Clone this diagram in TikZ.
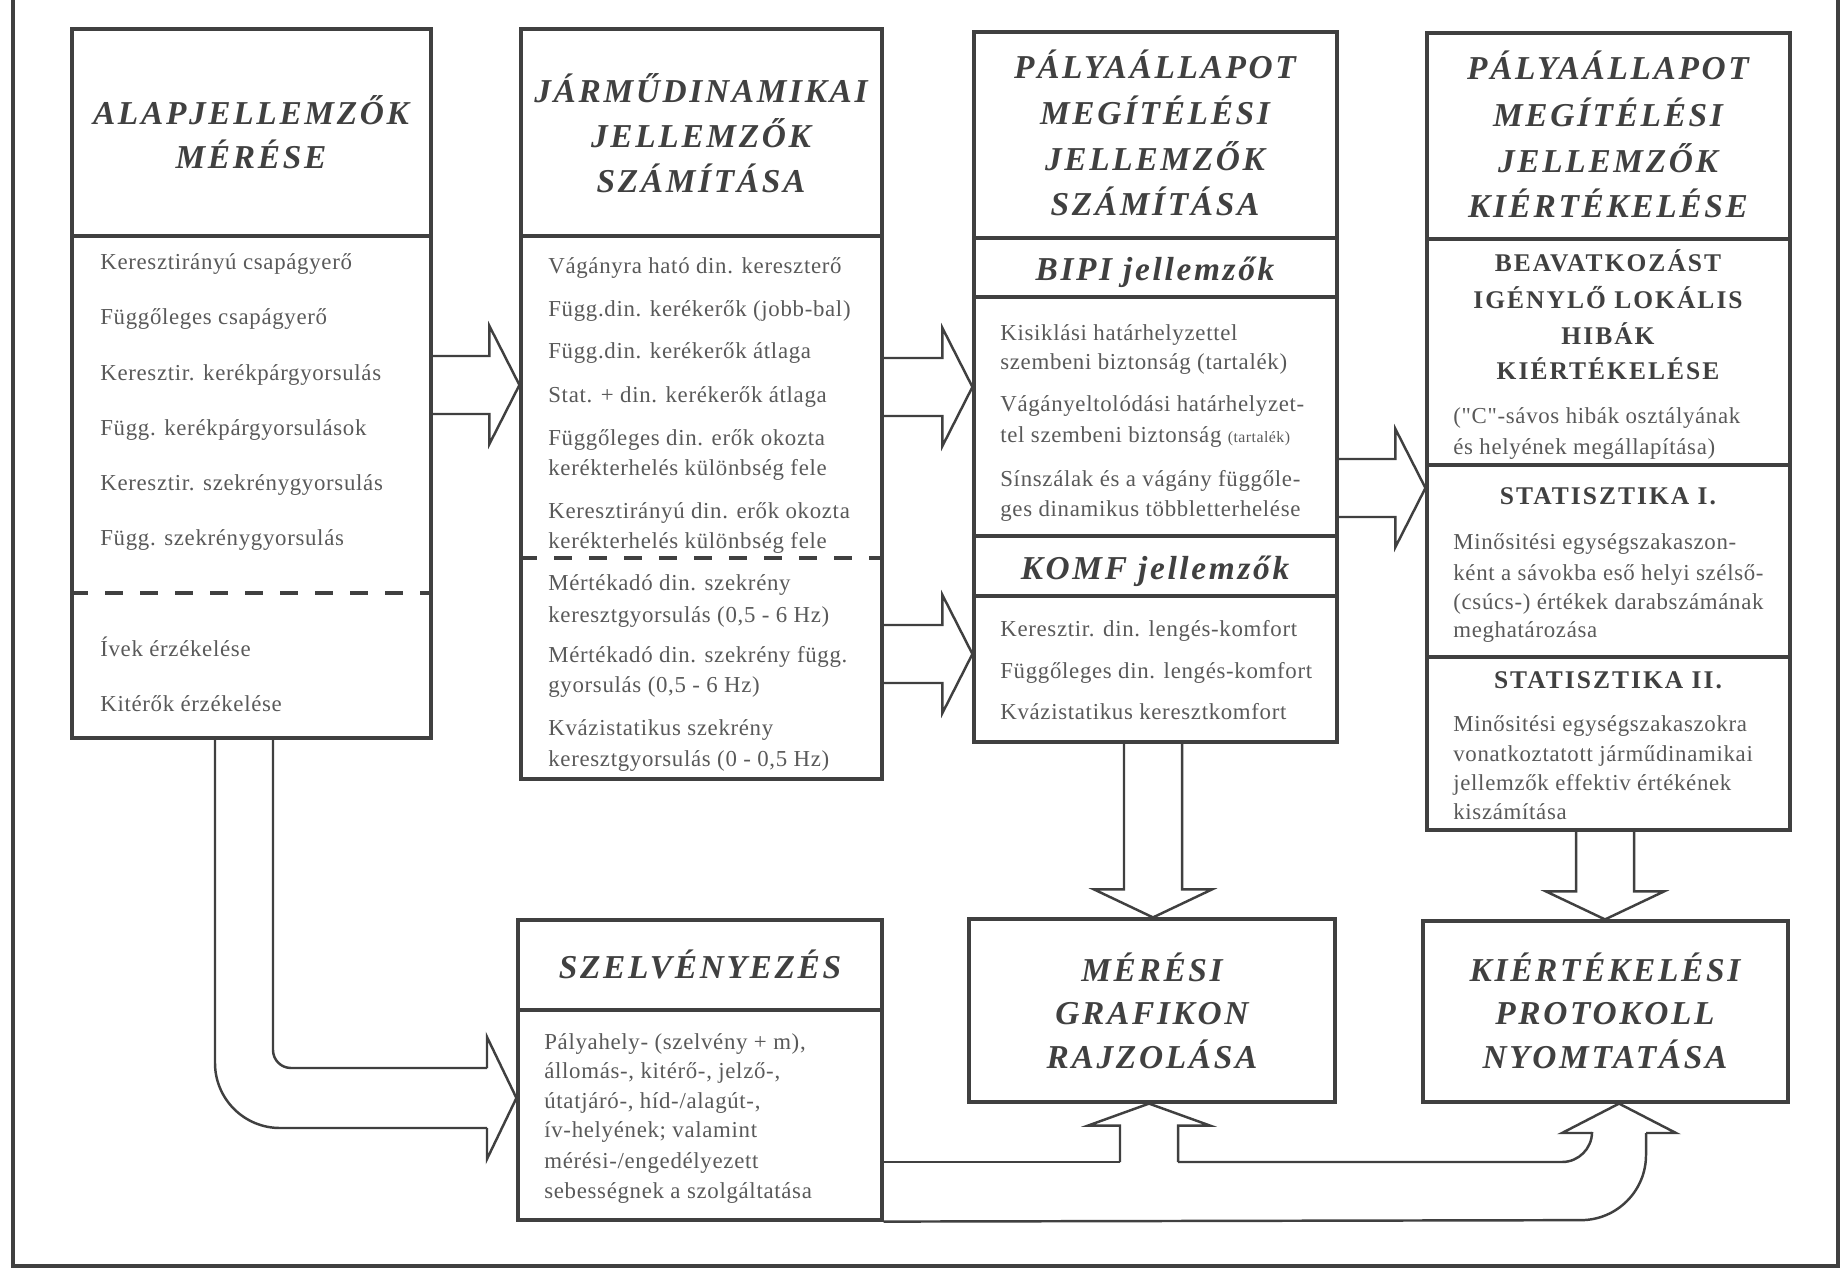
\documentclass[tikz,border=0pt]{standalone}
\usepackage{fontspec}
\setmainfont{Liberation Serif}
\newfontfamily\hdfont[LetterSpace=8]{Liberation Serif}
\newfontfamily\txfont[LetterSpace=3]{Liberation Serif}
\usetikzlibrary{calc,fit}

\definecolor{ink}{gray}{0.25}
\definecolor{txtc}{gray}{0.35}

% hollow block arrows: tail point, tip point
\newcommand\hollowR[2]{%
  \path (#1) coordinate (tl) (#2) coordinate (tp);
  \draw[arr] ($(tl)+(0,-29)$) -- ($(tp)+(-30,-29)$) -- ($(tp)+(-30,-59)$) -- (tp)
    -- ($(tp)+(-30,59)$) -- ($(tp)+(-30,29)$) -- ($(tl)+(0,29)$);}
\newcommand\hollowD[2]{%
  \path (#1) coordinate (tl) (#2) coordinate (tp);
  \draw[arr] ($(tl)+(-29,0)$) -- ($(tp)+(-29,-28)$) -- ($(tp)+(-59,-28)$) -- (tp)
    -- ($(tp)+(59,-28)$) -- ($(tp)+(29,-28)$) -- ($(tl)+(29,0)$);}
\newcommand\hollowU[2]{%
  \path (#1) coordinate (tl) (#2) coordinate (tp);
  \draw[arr] ($(tl)+(-29,0)$) -- ($(tp)+(-29,22)$) -- ($(tp)+(-61,22)$) -- (tp)
    -- ($(tp)+(61,22)$) -- ($(tp)+(29,22)$) -- ($(tl)+(29,0)$);}

\begin{document}
\begin{tikzpicture}[x=0.02cm, y=-0.02cm,
    boxline/.style={draw=ink, line width=1.8pt, inner sep=0pt},
    arr/.style={draw=ink, line width=1.4pt, line join=miter},
    dashsep/.style={draw=ink, line width=1.8pt, dash pattern=on 0.36cm off 0.34cm},
    ttl/.style={anchor=mid, text=ink, inner sep=0pt, yshift=-0.2cm,
      font=\hdfont\fontsize{19}{22}\selectfont\bfseries\itshape},
    sub/.style={anchor=mid, text=ink, inner sep=0pt, yshift=-0.15cm,
      font=\hdfont\fontsize{14.5}{17}\selectfont\bfseries},
    tx/.style={anchor=mid west, text=txtc, inner sep=0pt, yshift=-0.08cm,
      font=\txfont\fontsize{13}{16}\selectfont}]
  \fill[white] (0,0) rectangle (1844,1270);
  \useasboundingbox (0,0) rectangle (1844,1270);
  \draw[boxline] (13,-10) -- (13,1266) -- (1838,1266) -- (1838,-10);

  % boxes
  \node[boxline, fit={(72,29) (431,738)}] (alap) {};
  \node[boxline, fit={(521,29) (882,779)}] (jarmu) {};
  \node[boxline, fit={(974,32) (1337,742)}] (palya) {};
  \node[boxline, fit={(1427,33) (1790,830)}] (kiert) {};
  \node[boxline, fit={(518,920) (882,1220)}] (szelv) {};
  \node[boxline, fit={(969,919) (1335,1102)}] (meres) {};
  \node[boxline, fit={(1423,921) (1788,1102)}] (proto) {};

  \draw[boxline] (alap.west |- 0,236) -- (alap.east |- 0,236);
  \draw[dashsep] (alap.west |- 0,593) -- (alap.east |- 0,593);
  \draw[boxline] (jarmu.west |- 0,236) -- (jarmu.east |- 0,236);
  \draw[dashsep] (jarmu.west |- 0,558) -- (jarmu.east |- 0,558);
  \foreach \y in {238,297,536,596}
    \draw[boxline] (palya.west |- 0,\y) -- (palya.east |- 0,\y);
  \foreach \y in {239,465,657}
    \draw[boxline] (kiert.west |- 0,\y) -- (kiert.east |- 0,\y);
  \draw[boxline] (szelv.west |- 0,1010) -- (szelv.east |- 0,1010);

  % titles
  \node[ttl] (alap-h1) at (251,110) {ALAPJELLEMZŐK};
  \node[ttl] (alap-h2) at (251,154) {MÉRÉSE};
  \node[ttl] (jarmu-h1) at (701,88) {JÁRMŰDINAMIKAI};
  \node[ttl] (jarmu-h2) at (701,133) {JELLEMZŐK};
  \node[ttl] (jarmu-h3) at (701,178) {SZÁMÍTÁSA};
  \foreach \y/\t [count=\i] in {64/PÁLYAÁLLAPOT, 110/MEGÍTÉLÉSI, 156/JELLEMZŐK, 201/SZÁMÍTÁSA}
    \node[ttl] (palya-h\i) at (1155,\y) {\t};
  \node[ttl] (bipi) at (1155,266) {BIPI jellemzők};
  \node[ttl] (komf) at (1155,565) {KOMF jellemzők};
  \foreach \y/\t [count=\i] in {65/PÁLYAÁLLAPOT, 112/MEGÍTÉLÉSI, 158/JELLEMZŐK, 203/KIÉRTÉKELÉSE}
    \node[ttl] (kiert-h\i) at (1608,\y) {\t};
  \foreach \y/\t [count=\i] in {260/BEAVATKOZÁST, 297/IGÉNYLŐ LOKÁLIS, 333/HIBÁK, 368/KIÉRTÉKELÉSE}
    \node[sub] (beav\i) at (1608,\y) {\t};
  \node[sub] (stat1) at (1608,493) {STATISZTIKA I.};
  \node[sub] (stat2) at (1608,677) {STATISZTIKA II.};
  \node[ttl] (szelv-h) at (700,964) {SZELVÉNYEZÉS};
  \foreach \y/\t [count=\i] in {967/MÉRÉSI, 1010/GRAFIKON, 1054/RAJZOLÁSA}
    \node[ttl] (meres-h\i) at (1152,\y) {\t};
  \foreach \y/\t [count=\i] in {967/KIÉRTÉKELÉSI, 1010/PROTOKOLL, 1054/NYOMTATÁSA}
    \node[ttl] (proto-h\i) at (1605,\y) {\t};

  % lists
  \foreach \y/\t [count=\i] in {261/{Keresztirányú csapágyerő}, 316/{Függőleges csapágyerő},
      372/{Keresztir. kerékpárgyorsulás}, 427/{Függ. kerékpárgyorsulások},
      482/{Keresztir. szekrénygyorsulás}, 537/{Függ. szekrénygyorsulás},
      648/{Ívek érzékelése}, 703/{Kitérők érzékelése}}
    \node[tx] (alap-t\i) at (100,\y) {\t};
  \foreach \y/\t [count=\i] in {265/{Vágányra ható din. kereszterő}, 308/{Függ.din. kerékerők (jobb-bal)},
      350/{Függ.din. kerékerők átlaga}, 394/{Stat. + din. kerékerők átlaga},
      437/{Függőleges din. erők okozta}, 467/{kerékterhelés különbség fele},
      510/{Keresztirányú din. erők okozta}, 540/{kerékterhelés különbség fele},
      582/{Mértékadó din. szekrény}, 614/{keresztgyorsulás (0,5 - 6 Hz)},
      654/{Mértékadó din. szekrény függ.}, 684/{gyorsulás (0,5 - 6 Hz)},
      727/{Kvázistatikus szekrény}, 758/{keresztgyorsulás (0 - 0,5 Hz)}}
    \node[tx] (jarmu-t\i) at (548,\y) {\t};
  \foreach \y/\t [count=\i] in {332/{Kisiklási határhelyzettel}, 361/{szembeni biztonság (tartalék)},
      403/{Vágányeltolódási határhelyzet-},
      434/{tel szembeni biztonság {\fontsize{9}{10}\selectfont(tartalék)}},
      478/{Sínszálak és a vágány függőle-}, 508/{ges dinamikus többletterhelése},
      628/{Keresztir. din. lengés-komfort}, 670/{Függőleges din. lengés-komfort},
      711/{Kvázistatikus keresztkomfort}}
    \node[tx] (palya-t\i) at (1000,\y) {\t};
  \foreach \y/\t [count=\i] in {415/{("C"-sávos hibák osztályának}, 446/{és helyének megállapítása)},
      541/{Minősitési egységszakaszon-}, 572/{ként a sávokba eső helyi szélső-},
      601/{(csúcs-) értékek darabszámának}, 629/{meghatározása},
      723/{Minősitési egységszakaszokra}, 753/{vonatkoztatott járműdinamikai},
      782/{jellemzők effektiv értékének}, 811/{kiszámítása}}
    \node[tx] (kiert-t\i) at (1453,\y) {\t};
  \foreach \y/\t [count=\i] in {1041/{Pályahely- (szelvény + m),}, 1070/{állomás-, kitérő-, jelző-,},
      1100/{útatjáró-, híd-/alagút-,}, 1129/{ív-helyének; valamint},
      1160/{mérési-/engedélyezett}, 1190/{sebességnek a szolgáltatása}}
    \node[tx] (szelv-t\i) at (544,\y) {\t};

  % block arrows
  \hollowR{alap.east |- 0,385}{jarmu.west |- 0,385}
  \hollowR{jarmu.east |- 0,387}{palya.west |- 0,387}
  \hollowR{jarmu.east |- 0,654}{palya.west |- 0,654}
  \hollowR{palya.east |- 0,488}{kiert.west |- 0,488}
  \hollowD{palya.south -| 1153,0}{meres.north -| 1153,0}
  \hollowD{kiert.south -| 1605,0}{proto.north -| 1605,0}
  \hollowU{1149,1162}{meres.south -| 1149,0}

  % curved arrow to szelvenyezes
  \draw[arr, rounded corners=1.3cm] (alap.south -| 215,0) -- (215,1128) -- (487,1128);
  \draw[arr] (487,1128) -- (487,1159) -- (szelv.west |- 0,1098) -- (487,1037) -- (487,1068);
  \draw[arr, rounded corners=0.36cm] (487,1068) -- (273,1068) -- (alap.south -| 273,0);

  % band to the protocol box
  \draw[arr] (szelv.east |- 0,1162) -- (1120,1162);
  \draw[arr, rounded corners=0.6cm] (1178,1162) -- (1592,1162) -- (1592,1133);
  \draw[arr] (1592,1133) -- (1562,1133) -- (proto.south -| 1619,0) -- (1676,1133) -- (1646,1133);
  \draw[arr, rounded corners=1.3cm] (1646,1133) -- (1646,1220) -- (szelv.south east);
\end{tikzpicture}
\end{document}
